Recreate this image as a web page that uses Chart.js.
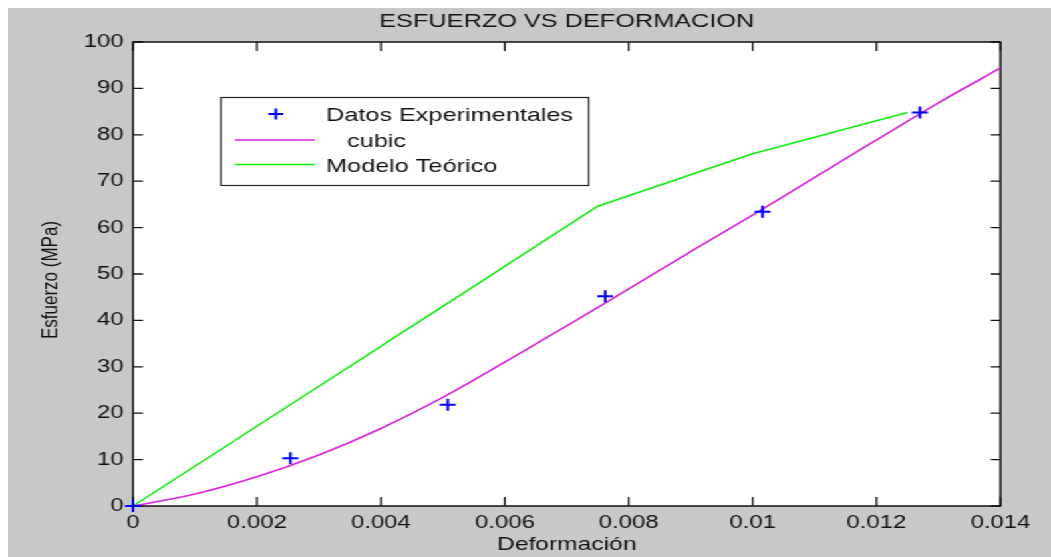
<!DOCTYPE html>
<html>
<head>
<meta charset="utf-8">
<script src="https://cdn.jsdelivr.net/npm/chart.js@4/dist/chart.umd.min.js"></script>
<style>
  html, body { margin: 0; padding: 0; background: #fff; overflow: hidden; }
  /* the reference is a stretched matlab figure, so the whole figure is stretched the same way */
  #fig {
    position: absolute; left: 8px; top: 8px;
    width: 784px; height: 549px;
    background: #c8c8c8;
    transform: scaleX(1.3304); transform-origin: 0 0;
  }
</style>
</head>
<body>
<div id="fig"><canvas id="chart"></canvas></div>
<script>
const titleText = "ESFUERZO VS DEFORMACION";
const xTitle = "Deformación";
const yTitle = "Esfuerzo (MPa)";

const xTickValues = [0, 0.002, 0.004, 0.006, 0.008, 0.01, 0.012, 0.014];
const xTickLabels = ["0", "0.002", "0.004", "0.006", "0.008", "0.01", "0.012", "0.014"];
const yTickValues = [0, 10, 20, 30, 40, 50, 60, 70, 80, 90, 100];
const yTickLabels = ["0", "10", "20", "30", "40", "50", "60", "70", "80", "90", "100"];

// Datos Experimentales
const expX = [0, 0.00254, 0.00508, 0.00762, 0.01016, 0.0127];
const expY = [0, 10.3, 21.8, 45.2, 63.4, 84.8];

// cubic
const cubicX = [0, 0.001, 0.002, 0.003, 0.004, 0.005, 0.006, 0.007, 0.008, 0.009, 0.010, 0.011, 0.012, 0.013, 0.014];
const cubicY = [0, 2.6, 6.3, 11.0, 16.7, 23.4, 31.0, 38.8, 46.8, 54.8, 62.7, 70.8, 78.9, 86.9, 94.4];

// Modelo Teórico
const modelX = [0, 0.0025, 0.005, 0.0075, 0.01, 0.0125];
const modelY = [0, 21.5, 43.0, 64.6, 75.9, 84.8];

const legendLabels = ["Datos Experimentales", "   cubic", "Modelo Teórico"];

const FONT = "'Liberation Sans', Arial, sans-serif";
const INK = "#111";

function toPoints(xs, ys) {
  return xs.map((x, i) => ({ x, y: ys[i] }));
}

const matlabFrame = {
  id: "matlabFrame",
  beforeDatasetsDraw(chart) {
    const { ctx, chartArea: a, scales } = chart;
    ctx.save();
    ctx.fillStyle = "#fff";
    ctx.fillRect(a.left, a.top, a.right - a.left, a.bottom - a.top);
    ctx.strokeStyle = "#111";
    ctx.lineWidth = 1.5;
    ctx.strokeRect(a.left, a.top, a.right - a.left, a.bottom - a.top);

    // inward ticks on all four sides
    ctx.lineWidth = 1.3;
    ctx.beginPath();
    xTickValues.forEach((v) => {
      const px = scales.x.getPixelForValue(v);
      ctx.moveTo(px, a.bottom); ctx.lineTo(px, a.bottom - 9);
      ctx.moveTo(px, a.top); ctx.lineTo(px, a.top + 9);
    });
    yTickValues.forEach((v) => {
      const py = scales.y.getPixelForValue(v);
      ctx.moveTo(a.left, py); ctx.lineTo(a.left + 7.5, py);
      ctx.moveTo(a.right, py); ctx.lineTo(a.right - 7.5, py);
    });
    ctx.stroke();
    ctx.restore();
  },
  afterDatasetsDraw(chart) {
    const { ctx, chartArea: a } = chart;
    const ds = chart.data.datasets;
    ctx.save();
    ctx.fillStyle = INK;
    ctx.textAlign = "center";
    ctx.textBaseline = "middle";

    ctx.font = `19px ${FONT}`;
    ctx.fillText(titleText, (a.left + a.right) / 2, 14);

    ctx.font = `18.5px ${FONT}`;
    ctx.fillText(xTitle, (a.left + a.right) / 2, 537);

    ctx.save();
    ctx.translate(32, 272);
    ctx.rotate(-Math.PI / 2);
    ctx.font = `17px ${FONT}`;
    ctx.fillText(yTitle, 0, 0);
    ctx.restore();

    // legend box
    const box = { x: 160, y: 89.5, w: 276.5, h: 88 };
    ctx.fillStyle = "#fff";
    ctx.fillRect(box.x, box.y, box.w, box.h);
    ctx.strokeStyle = "#222";
    ctx.lineWidth = 1.2;
    ctx.strokeRect(box.x, box.y, box.w, box.h);

    // marker sample
    ctx.strokeStyle = ds[0].borderColor;
    ctx.lineWidth = ds[0].borderWidth;
    ctx.beginPath();
    ctx.moveTo(201.4 - 5.6, 106); ctx.lineTo(201.4 + 5.6, 106);
    ctx.moveTo(201.4, 100.5); ctx.lineTo(201.4, 111.5);
    ctx.stroke();

    // line samples
    [[1, 132], [2, 156.5]].forEach(([i, y]) => {
      ctx.strokeStyle = ds[i].borderColor;
      ctx.lineWidth = ds[i].borderWidth;
      ctx.beginPath();
      ctx.moveTo(170.6, y); ctx.lineTo(230.8, y);
      ctx.stroke();
    });

    ctx.fillStyle = INK;
    ctx.textAlign = "left";
    ctx.textBaseline = "alphabetic";
    ctx.font = `19px ${FONT}`;
    ctx.fillText(legendLabels[0], 239, 112.5);
    ctx.fillText(legendLabels[1], 239, 139);
    ctx.fillText(legendLabels[2], 239, 164);
    ctx.restore();
  },
};

new Chart(document.getElementById("chart"), {
  type: "scatter",
  data: {
    datasets: [
      {
        label: legendLabels[0],
        data: toPoints(expX, expY),
        showLine: false,
        pointStyle: "cross",
        pointRadius: 6,
        pointBorderWidth: 2,
        borderWidth: 2,
        borderColor: "#0000ff",
        backgroundColor: "#0000ff",
        clip: false,
      },
      {
        label: legendLabels[1],
        data: toPoints(cubicX, cubicY),
        showLine: true,
        pointRadius: 0,
        borderColor: "#dd22dd",
        borderWidth: 1.6,
        cubicInterpolationMode: "monotone",
        clip: false,
      },
      {
        label: legendLabels[2],
        data: toPoints(modelX, modelY),
        showLine: true,
        pointRadius: 0,
        borderColor: "#11ee11",
        borderWidth: 1.6,
        tension: 0,
        clip: false,
      },
    ],
  },
  options: {
    responsive: true,
    maintainAspectRatio: false,
    animation: false,
    events: [],
    layout: { padding: { left: 0, top: 34, right: 38, bottom: 0 } },
    plugins: {
      legend: { display: false },
      tooltip: { enabled: false },
      title: { display: false },
    },
    scales: {
      x: {
        type: "linear",
        min: 0,
        max: 0.014,
        grid: { display: false, drawTicks: false },
        border: { display: false },
        afterBuildTicks: (scale) => {
          scale.ticks = xTickValues.map((value) => ({ value }));
        },
        afterFit: (scale) => { scale.height = 51; },
        ticks: {
          padding: 6,
          maxRotation: 0,
          autoSkip: false,
          color: INK,
          font: { family: FONT, size: 18 },
          callback: (value, i) => xTickLabels[i],
        },
      },
      y: {
        type: "linear",
        min: 0,
        max: 100,
        grid: { display: false, drawTicks: false },
        border: { display: false },
        afterBuildTicks: (scale) => {
          scale.ticks = yTickValues.map((value) => ({ value }));
        },
        afterFit: (scale) => { scale.width = 94; },
        ticks: {
          padding: 7,
          autoSkip: false,
          color: INK,
          font: { family: FONT, size: 18 },
          callback: (value, i) => yTickLabels[i],
        },
      },
    },
  },
  plugins: [matlabFrame],
});
</script>
</body>
</html>
